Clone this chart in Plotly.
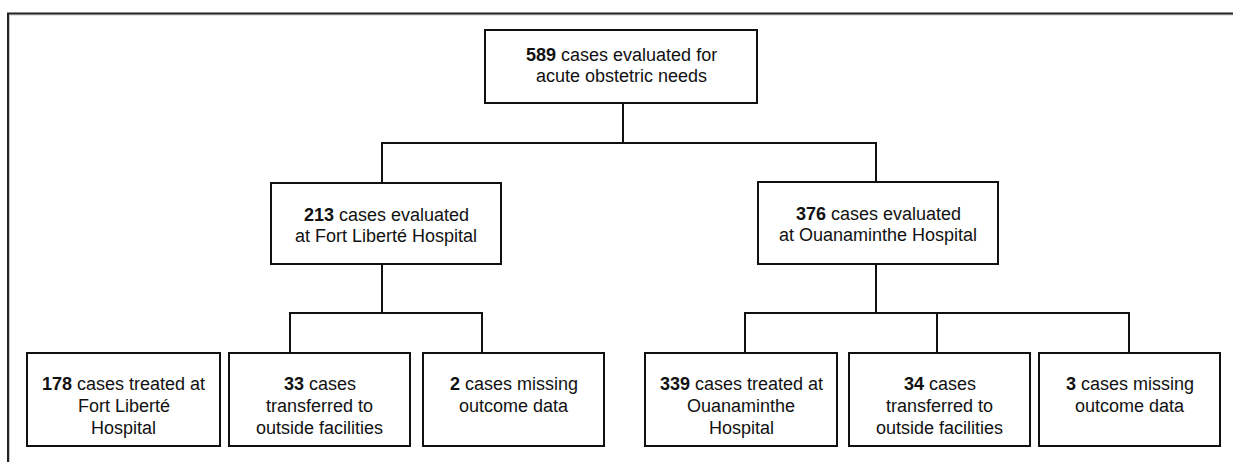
import plotly.graph_objects as go

# ---- data ----
counts = [589, 213, 376, 178, 33, 2, 339, 34, 3]
first_rest = ["cases evaluated for", "cases evaluated", "cases evaluated",
              "cases treated at", "cases", "cases missing",
              "cases treated at", "cases", "cases missing"]
more_lines = [["acute obstetric needs"],
              ["at Fort Liberté Hospital"],
              ["at Ouanaminthe Hospital"],
              ["Fort Liberté", "Hospital"],
              ["transferred to", "outside facilities"],
              ["outcome data"],
              ["Ouanaminthe", "Hospital"],
              ["transferred to", "outside facilities"],
              ["outcome data"]]

# ---- layout (pixel geometry) ----
W, H = 1233, 462
boxes = [(485, 757, 30, 103),
         (271, 501, 183, 264), (758, 998, 182, 264),
         (27, 220, 353, 446), (229, 410, 353, 446), (423, 604, 353, 446),
         (645, 837, 353, 446), (849, 1030, 353, 446), (1039, 1220, 353, 446)]
first_base = [31.5, 38.5, 38.5, 37, 37, 37, 37, 37, 37]
line_gap = [21, 21, 21, 22, 22, 22, 22, 22, 22]
connectors = [
    [(623, 103), (623, 143)],
    [(382, 183), (382, 143), (876, 143), (876, 182)],
    [(382, 264), (382, 313)],
    [(290, 353), (290, 313), (482, 313), (482, 353)],
    [(876, 264), (876, 313)],
    [(745, 353), (745, 313), (1129, 313), (1129, 353)],
    [(937, 313), (937, 353)],
]
FS = 18
FONT = "Liberation Sans, Arial, sans-serif"

fig = go.Figure()
shapes = []
annotations = []

# frame (top and left)
shapes.append(dict(type="line", x0=8, y0=15, x1=W, y1=15, line=dict(color="#c8c8c8", width=1)))
shapes.append(dict(type="line", x0=9.5, y0=14, x1=9.5, y1=H, line=dict(color="#c8c8c8", width=1)))
shapes.append(dict(type="line", x0=7, y0=13.5, x1=W, y1=13.5, line=dict(color="#222", width=2)))
shapes.append(dict(type="line", x0=8, y0=13, x1=8, y1=H, line=dict(color="#222", width=2)))

for path in connectors:
    d = "M " + " L ".join(f"{x},{y}" for x, y in path)
    shapes.append(dict(type="path", path=d, line=dict(color="#111", width=2)))

for i, (x0, x1, y0, y1) in enumerate(boxes):
    shapes.append(dict(type="rect", x0=x0, x1=x1, y0=y0, y1=y1,
                       line=dict(color="#111", width=2), fillcolor="white"))
    lines = [f"<b>{counts[i]}</b> {first_rest[i]}"] + more_lines[i]
    cx = (x0 + x1) / 2
    for k, t in enumerate(lines):
        base = y0 + first_base[i] + k * line_gap[i]
        annotations.append(dict(x=cx, y=base - 0.36 * FS, text=t, showarrow=False,
                                xanchor="center", yanchor="middle",
                                font=dict(family=FONT, size=FS, color="#111")))

fig.update_layout(
    width=W, height=H, margin=dict(l=0, r=0, t=0, b=0),
    paper_bgcolor="white", plot_bgcolor="white",
    xaxis=dict(range=[0, W], visible=False, fixedrange=True),
    yaxis=dict(range=[H, 0], visible=False, fixedrange=True),
    shapes=shapes, annotations=annotations, showlegend=False,
)
fig.write_html("out.html", config={"displayModeBar": False},
               post_script="document.body.style.margin='0';document.body.style.overflow='hidden';")
